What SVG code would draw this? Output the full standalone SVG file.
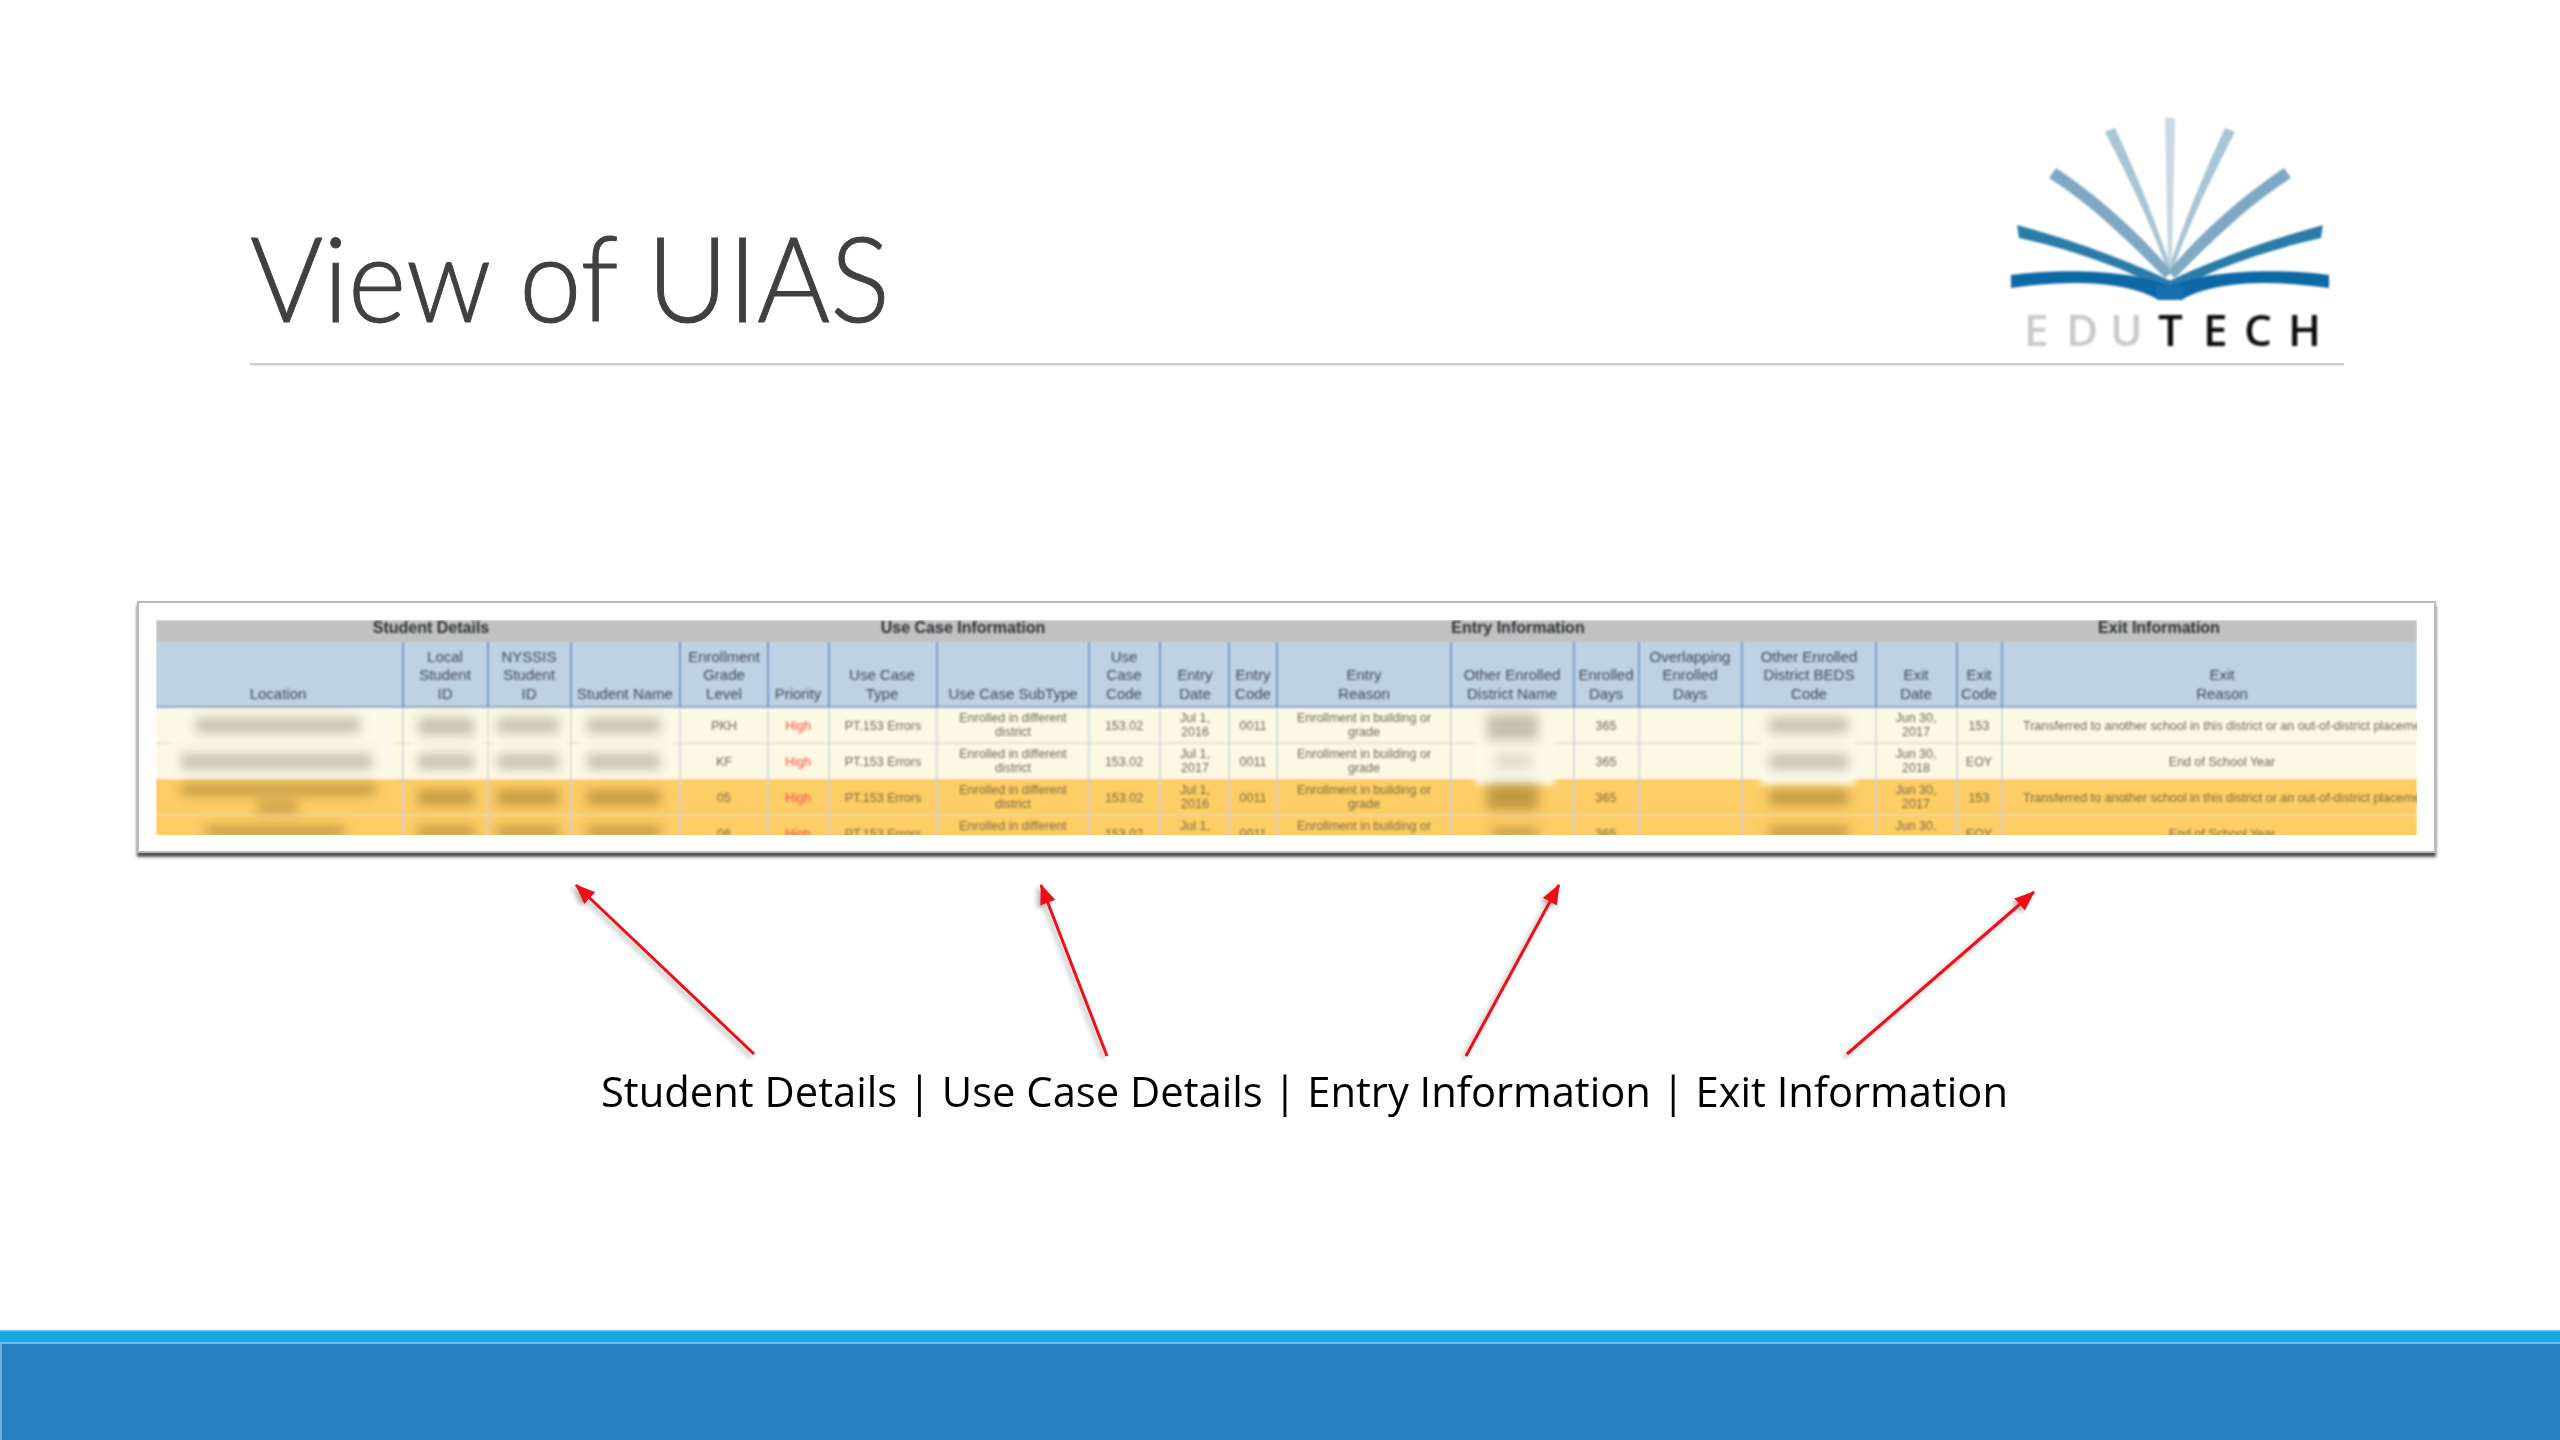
<svg xmlns="http://www.w3.org/2000/svg" width="2560" height="1440" viewBox="0 0 2560 1440">
<style>
.h{font:15px "Liberation Sans",Arial,sans-serif;fill:#3f4a55;text-anchor:middle}
.g{font:bold 16px "Liberation Sans",Arial,sans-serif;fill:#2c3034;text-anchor:middle}
.d{font:12.5px "Liberation Sans",Arial,sans-serif;fill:#6b685a;text-anchor:middle}
.o{fill:#7c6c3e}
.r{fill:#f0504a}
.sep{stroke:#6f98c2;stroke-width:2}
.sep2{stroke:#c9d2da;stroke-width:1.5}
.arr{stroke:#f01018;stroke-width:3;fill:none;marker-end:url(#ah)}
</style>
<defs>
<marker id="ah" markerUnits="userSpaceOnUse" markerWidth="22" markerHeight="22" refX="19" refY="8" orient="auto"><path d="M0 0L20 8L0 16Z" fill="#f01018"/></marker>
<filter id="b0" x="-2%" y="-10%" width="104%" height="120%"><feGaussianBlur stdDeviation="0.4"/></filter>
<filter id="b1" x="-5%" y="-5%" width="110%" height="110%"><feGaussianBlur stdDeviation="0.85"/></filter>
<filter id="b2" x="-30%" y="-60%" width="160%" height="220%"><feGaussianBlur stdDeviation="6"/></filter>
<filter id="b3" x="-30%" y="-30%" width="160%" height="160%"><feGaussianBlur stdDeviation="3"/></filter>
<filter id="sh" x="-20%" y="-20%" width="140%" height="140%"><feDropShadow dx="-3" dy="3" stdDeviation="2.5" flood-color="#000" flood-opacity=".3"/></filter>
<filter id="cs" x="-2%" y="-5%" width="104%" height="112%"><feDropShadow dx="0" dy="4" stdDeviation="1.5" flood-color="#333" flood-opacity=".85"/></filter>
<clipPath id="tc"><rect x="156" y="620" width="2261" height="215"/></clipPath>
<g id="half">
<path d="M2108 132L2118 128C2140 175 2160 225 2174 268L2170 270C2155 225 2130 175 2108 132Z" fill="#a9c5d3"/>
<path d="M2052 178L2059 168C2100 195 2145 235 2175 272L2168 278C2135 245 2095 205 2052 178Z" fill="#7fa8c4"/>
<path d="M2020 225L2022 238C2075 250 2130 268 2170 292L2176 282C2135 262 2075 240 2020 225Z" fill="#2b7ba9"/>
<path d="M2014 275V288C2075 279 2130 282 2160 299H2173V286C2140 272 2075 267 2014 275Z" fill="#0f68a6"/>
</g>
</defs>
<rect width="2560" height="1440" fill="#fff"/>
<g id="title" filter="url(#b0)">
<text x="250" y="322" font-family="Lato,'Open Sans',sans-serif" font-weight="300" font-size="118" fill="#404040" stroke="#404040" stroke-width="1" textLength="640" lengthAdjust="spacingAndGlyphs">View of UIAS</text>
<rect x="250" y="363" width="2094" height="2.5" fill="#cfcfcf"/>
</g>
<g id="logo" filter="url(#b1)">
<g transform="translate(-3 0)">
<path d="M2168 118H2178L2175 265H2171Z" fill="#c9d8e4"/>
<use href="#half"/>
<use href="#half" transform="translate(4346 0) scale(-1 1)"/>
<path d="M2158 286H2188L2186 300H2160Z" fill="#1470b2"/>
</g>
<text y="346" font-family="'Open Sans','Liberation Sans',sans-serif" font-weight="600" font-size="44"><tspan x="2024 2066 2110" fill="#cbcbcb">EDU</tspan><tspan x="2158 2203 2244 2288" fill="#111">TECH</tspan></text>
</g>
<g id="table-card">
<rect x="138" y="602" width="2297" height="250" fill="#fff" stroke="#b9b9b9" stroke-width="2" filter="url(#cs)"/>
<g clip-path="url(#tc)">
<g filter="url(#b1)">
<rect x="156" y="620" width="2261" height="22" fill="#c1c1c1"/>
<rect x="156" y="642" width="2261" height="65" fill="#bdd2e5"/>
<rect x="156" y="706" width="2261" height="2" fill="#7ba0c6"/>
<rect x="156" y="708" width="2261" height="71" fill="#fdf8e3"/>
<rect x="156" y="779" width="2261" height="60" fill="#fdcd66"/>
<path d="M156 743H2417" stroke="#e6e2cf" stroke-width="2"/>
<path d="M156 815H2417" stroke="#f3d993" stroke-width="2"/>
<g class="sep"><path d="M403 642V707M488 642V707M571 642V707M680 642V707M768 642V707M829 642V707M937 642V707M1089 642V707M1160 642V707M1229 642V707M1277 642V707M1451 642V707M1574 642V707M1639 642V707M1742 642V707M1876 642V707M1957 642V707M2002 642V707"/></g>
<g class="sep2"><path d="M403 708V835M488 708V835M571 708V835M680 708V835M768 708V835M829 708V835M937 708V835M1089 708V835M1160 708V835M1229 708V835M1277 708V835M1451 708V835M1574 708V835M1639 708V835M1742 708V835M1876 708V835M1957 708V835M2002 708V835"/></g>
</g>
<g filter="url(#b3)" fill="#fdf9ea" opacity=".95">
<rect x="170" y="712" width="225" height="65"/><rect x="410" y="712" width="75" height="65"/><rect x="492" y="712" width="76" height="65"/><rect x="578" y="712" width="96" height="65"/><rect x="1475" y="725" width="80" height="60"/><rect x="1760" y="730" width="95" height="55"/>
</g>
<g filter="url(#b2)">
<g fill="#a09a84" opacity=".6"><rect x="196" y="718" width="164" height="15"/><rect x="181" y="754" width="191" height="15"/><rect x="418" y="718" width="56" height="17"/><rect x="497" y="718" width="62" height="15"/><rect x="418" y="754" width="56" height="15"/><rect x="497" y="754" width="62" height="15"/><rect x="587" y="718" width="73" height="15"/><rect x="587" y="754" width="73" height="15"/><rect x="1487" y="714" width="51" height="26"/><rect x="1769" y="718" width="79" height="15"/><rect x="1769" y="754" width="79" height="15"/></g>
<rect x="1495" y="754" width="36" height="15" fill="#c9c6b4" opacity=".6"/>
<g fill="#8f6f2a" opacity=".55"><rect x="181" y="784" width="194" height="11"/><rect x="257" y="802" width="41" height="10"/><rect x="206" y="826" width="138" height="11"/><rect x="418" y="790" width="56" height="15"/><rect x="497" y="790" width="62" height="15"/><rect x="587" y="790" width="73" height="15"/><rect x="418" y="826" width="56" height="12"/><rect x="497" y="826" width="62" height="12"/><rect x="587" y="826" width="73" height="12"/><rect x="1487" y="784" width="51" height="26"/><rect x="1492" y="828" width="46" height="10"/><rect x="1769" y="790" width="79" height="15"/><rect x="1769" y="826" width="79" height="12"/></g>
</g>
<g filter="url(#b1)">
<text class="g" x="431" y="633">Student Details</text><text class="g" x="963" y="633">Use Case Information</text><text class="g" x="1518" y="633">Entry Information</text><text class="g" x="2159" y="633">Exit Information</text>
<text class="h" x="278" y="699">Location</text>
<text class="h" x="445" y="662">Local</text><text class="h" x="445" y="680">Student</text><text class="h" x="445" y="699">ID</text>
<text class="h" x="529" y="662">NYSSIS</text><text class="h" x="529" y="680">Student</text><text class="h" x="529" y="699">ID</text>
<text class="h" x="625" y="699">Student Name</text>
<text class="h" x="724" y="662">Enrollment</text><text class="h" x="724" y="680">Grade</text><text class="h" x="724" y="699">Level</text>
<text class="h" x="798" y="699">Priority</text>
<text class="h" x="882" y="680">Use Case</text><text class="h" x="882" y="699">Type</text>
<text class="h" x="1013" y="699">Use Case SubType</text>
<text class="h" x="1124" y="662">Use</text><text class="h" x="1124" y="680">Case</text><text class="h" x="1124" y="699">Code</text>
<text class="h" x="1195" y="680">Entry</text><text class="h" x="1195" y="699">Date</text>
<text class="h" x="1253" y="680">Entry</text><text class="h" x="1253" y="699">Code</text>
<text class="h" x="1364" y="680">Entry</text><text class="h" x="1364" y="699">Reason</text>
<text class="h" x="1512" y="680">Other Enrolled</text><text class="h" x="1512" y="699">District Name</text>
<text class="h" x="1606" y="680">Enrolled</text><text class="h" x="1606" y="699">Days</text>
<text class="h" x="1690" y="662">Overlapping</text><text class="h" x="1690" y="680">Enrolled</text><text class="h" x="1690" y="699">Days</text>
<text class="h" x="1809" y="662">Other Enrolled</text><text class="h" x="1809" y="680">District BEDS</text><text class="h" x="1809" y="699">Code</text>
<text class="h" x="1916" y="680">Exit</text><text class="h" x="1916" y="699">Date</text>
<text class="h" x="1979" y="680">Exit</text><text class="h" x="1979" y="699">Code</text>
<text class="h" x="2222" y="680">Exit</text><text class="h" x="2222" y="699">Reason</text>
<text class="d" x="724" y="730">PKH</text><text class="d r" x="798" y="730">High</text><text class="d" x="883" y="730">PT.153 Errors</text><text class="d" x="1013" y="722">Enrolled in different</text><text class="d" x="1013" y="736">district</text><text class="d" x="1124" y="730">153.02</text><text class="d" x="1195" y="722">Jul 1,</text><text class="d" x="1195" y="736">2016</text><text class="d" x="1253" y="730">0011</text><text class="d" x="1364" y="722">Enrollment in building or</text><text class="d" x="1364" y="736">grade</text><text class="d" x="1606" y="730">365</text><text class="d" x="1916" y="722">Jun 30,</text><text class="d" x="1916" y="736">2017</text><text class="d" x="1979" y="730">153</text><text class="d" style="text-anchor:start" x="2023" y="730">Transferred to another school in this district or an out-of-district placement</text>
<text class="d" x="724" y="766">KF</text><text class="d r" x="798" y="766">High</text><text class="d" x="883" y="766">PT.153 Errors</text><text class="d" x="1013" y="758">Enrolled in different</text><text class="d" x="1013" y="772">district</text><text class="d" x="1124" y="766">153.02</text><text class="d" x="1195" y="758">Jul 1,</text><text class="d" x="1195" y="772">2017</text><text class="d" x="1253" y="766">0011</text><text class="d" x="1364" y="758">Enrollment in building or</text><text class="d" x="1364" y="772">grade</text><text class="d" x="1606" y="766">365</text><text class="d" x="1916" y="758">Jun 30,</text><text class="d" x="1916" y="772">2018</text><text class="d" x="1979" y="766">EOY</text><text class="d" x="2222" y="766">End of School Year</text>
<text class="d o" x="724" y="802">05</text><text class="d r" x="798" y="802">High</text><text class="d o" x="883" y="802">PT.153 Errors</text><text class="d o" x="1013" y="794">Enrolled in different</text><text class="d o" x="1013" y="808">district</text><text class="d o" x="1124" y="802">153.02</text><text class="d o" x="1195" y="794">Jul 1,</text><text class="d o" x="1195" y="808">2016</text><text class="d o" x="1253" y="802">0011</text><text class="d o" x="1364" y="794">Enrollment in building or</text><text class="d o" x="1364" y="808">grade</text><text class="d o" x="1606" y="802">365</text><text class="d o" x="1916" y="794">Jun 30,</text><text class="d o" x="1916" y="808">2017</text><text class="d o" x="1979" y="802">153</text><text class="d o" style="text-anchor:start" x="2023" y="802">Transferred to another school in this district or an out-of-district placement</text>
<text class="d o" x="724" y="838">06</text><text class="d r" x="798" y="838">High</text><text class="d o" x="883" y="838">PT.153 Errors</text><text class="d o" x="1013" y="830">Enrolled in different</text><text class="d o" x="1124" y="838">153.02</text><text class="d o" x="1195" y="830">Jul 1,</text><text class="d o" x="1253" y="838">0011</text><text class="d o" x="1364" y="830">Enrollment in building or</text><text class="d o" x="1606" y="838">365</text><text class="d o" x="1916" y="830">Jun 30,</text><text class="d o" x="1979" y="838">EOY</text><text class="d o" x="2222" y="838">End of School Year</text>
</g>
</g>
</g>
<g id="connectors" filter="url(#sh)">
<path class="arr" d="M754 1054L576 885"/>
<path class="arr" d="M1107 1056L1041 885"/>
<path class="arr" d="M1466 1056L1559 885"/>
<path class="arr" d="M1847 1054L2034 892"/>
</g>
<g id="caption" filter="url(#b0)">
<text x="601" y="1107" font-family="'Open Sans','Noto Sans',sans-serif" font-size="42" fill="#000" textLength="1407" lengthAdjust="spacingAndGlyphs">Student Details | Use Case Details | Entry Information | Exit Information</text>
</g>
<g id="footer">
<rect x="0" y="1330" width="2560" height="14" fill="#19a7e3"/>
<rect x="0" y="1330" width="2560" height="1.5" fill="#6cc8ee"/>
<rect x="0" y="1342" width="2560" height="2" fill="#6cbce8"/>
<rect x="0" y="1344" width="2560" height="96" fill="#2880c2"/>
<rect x="0" y="1344" width="2" height="96" fill="#6cb0dc"/>
</g>
</svg>
